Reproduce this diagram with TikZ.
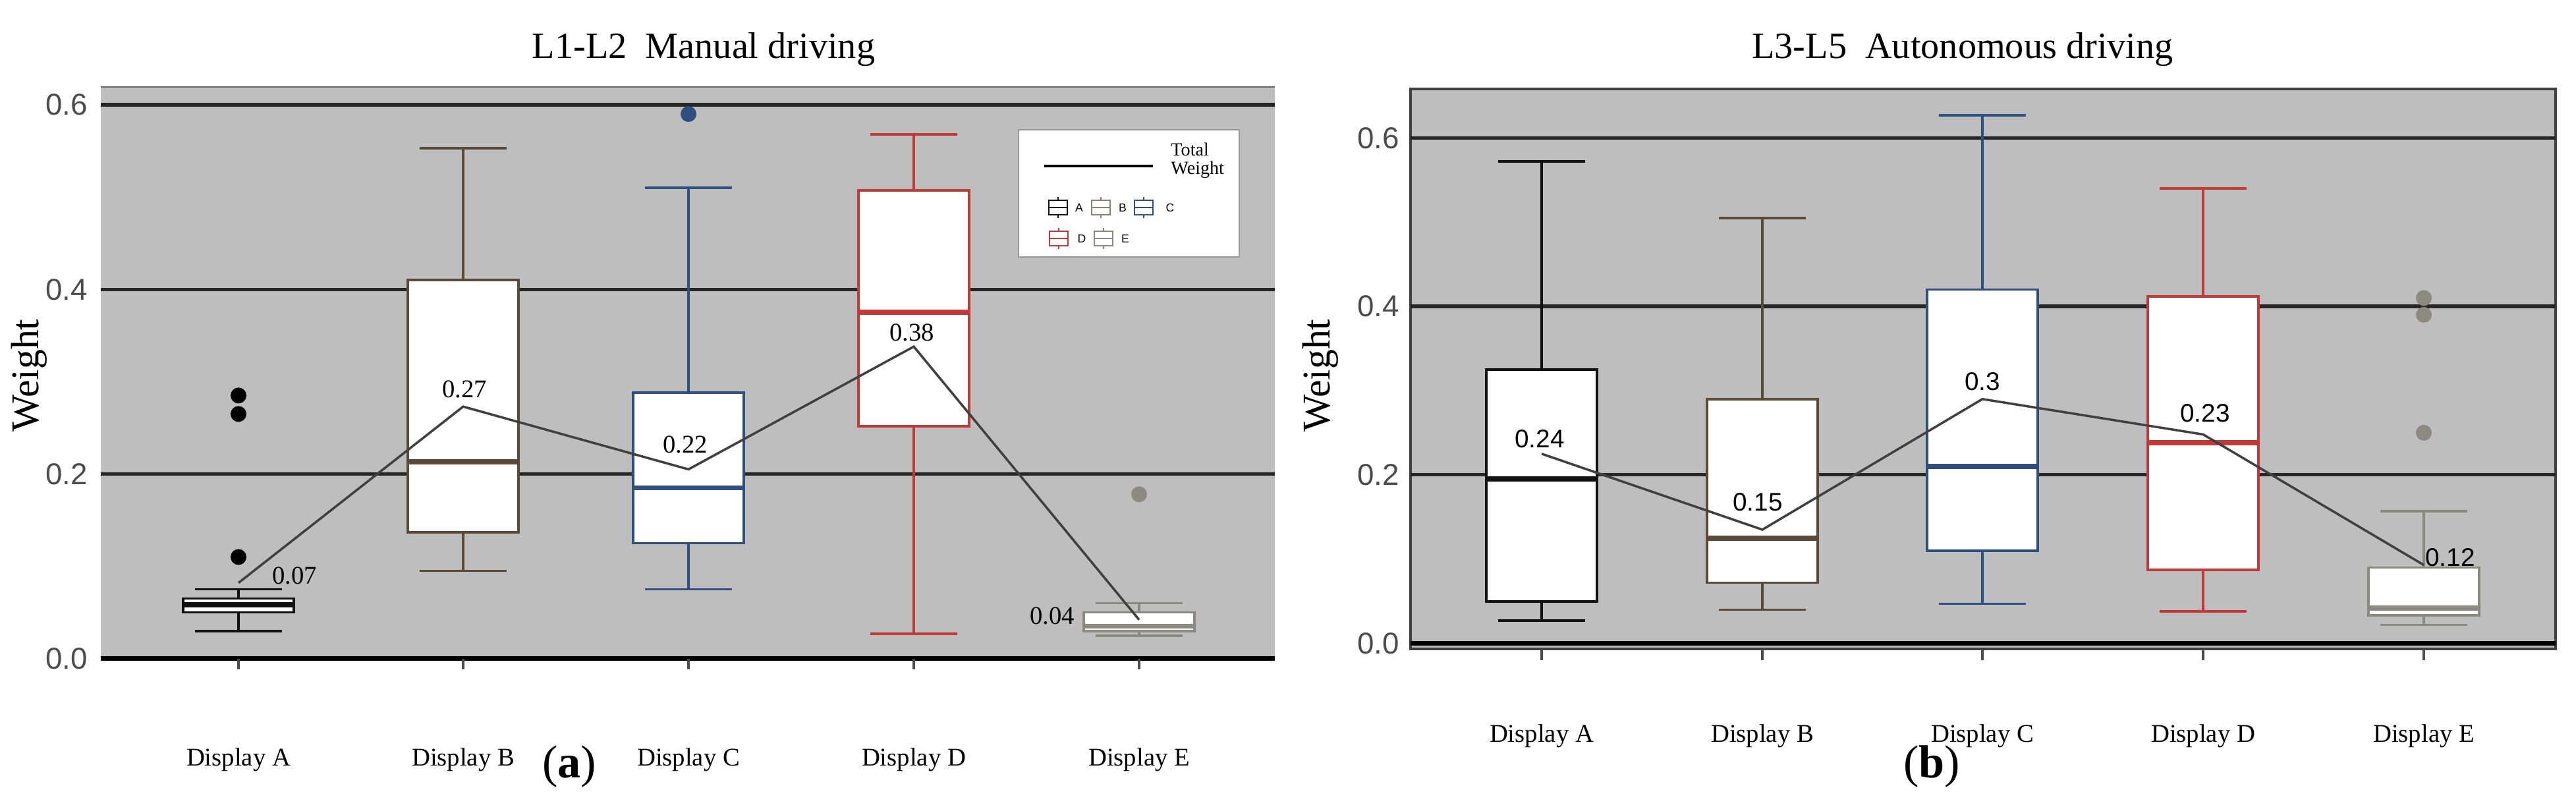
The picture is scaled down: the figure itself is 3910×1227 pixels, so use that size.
\documentclass[tikz,border=0pt]{standalone}
\usepackage{fontspec}
\setmainfont{Liberation Serif}
\setsansfont{Liberation Sans}
\definecolor{bgg}{HTML}{BEBEBE}
\definecolor{cA}{HTML}{111111}
\definecolor{cB}{HTML}{5A4A3A}
\definecolor{cC}{HTML}{2F4F80}
\definecolor{cD}{HTML}{C03A3A}
\definecolor{cE}{HTML}{8A8A80}
\newcommand\bplot[7]{% x lw lq med uq uw color
  \draw[#7,line width=1.1pt] (#1,#2) -- (#1,#3) (#1,#5) -- (#1,#6);
  \draw[#7,line width=1.1pt] (#1-66,#2) -- (#1+66,#2) (#1-66,#6) -- (#1+66,#6);
  \draw[#7,line width=1.1pt,fill=white] (#1-84,#3) rectangle (#1+84,#5);
  \draw[#7,line width=2.2pt] (#1-84,#4) -- (#1+84,#4);
}
\newcommand\outdot[3]{\fill[#3] (#1,#2) circle[radius=0.12cm];}
\newcommand\legicon[3]{% x y color
  \draw[#3,line width=0.6pt] (#1,#2-16) -- (#1,#2+16);
  \draw[#3,line width=0.6pt,fill=white] (#1-14,#2-11) rectangle (#1+14,#2+11);
  \draw[#3,line width=0.6pt] (#1-14,#2) -- (#1+14,#2);
}
\tikzset{
  grid/.style={line width=1.5pt,black!85},
  tot/.style={line width=1pt,black!75},
  val/.style={font=\fontsize{11}{12}\selectfont},
  vals/.style={font=\sffamily\fontsize{11}{12}\selectfont},
  cat/.style={font=\fontsize{11}{12}\selectfont},
  tick/.style={font=\sffamily\fontsize{13}{14}\selectfont,text=black!70,anchor=east},
}
\begin{document}
\begin{tikzpicture}[x=0.01cm,y=-0.01cm]
\useasboundingbox (0,0) rectangle (3910,1227);
% ---------------- panel a
\node[font=\fontsize{16}{18}\selectfont] (ta) at (1068,75) {L1-L2\ \ Manual driving};
\node[font=\fontsize{20}{22}\selectfont] (la) at (864,1164) {(\textbf{a})};
\node[font=\fontsize{17}{18}\selectfont,rotate=90] (wa) at (44,570) {Weight};
\fill[bgg] (153,132) rectangle (1935,999);
\draw[black!60,line width=0.6pt] (153,132) -- (1935,132);
\begin{scope}[x=0.01cm,y=14cm,shift={(0cm,-9.99cm)}]
  \foreach \v in {0.2,0.4,0.6} \draw[grid] (153,\v) -- (1935,\v);
  \draw[line width=2pt,black] (153,0) -- (1935,0);
  \foreach \v/\t in {0/0.0,0.2/0.2,0.4/0.4,0.6/0.6} \node[tick] at (145,\v) {\t};
  \foreach \x/\n in {362/A,703/B,1045/C,1387/D,1729/E} {
    \draw[black!70,line width=1pt] (\x,0) -- (\x,-0.012);
    \node[cat] at (\x,-0.11) {Display \n};
  }
  \bplot{362}{0.03}{0.05}{0.058}{0.065}{0.075}{cA}
  \bplot{703}{0.095}{0.137}{0.213}{0.41}{0.553}{cB}
  \bplot{1045}{0.075}{0.125}{0.185}{0.288}{0.51}{cC}
  \bplot{1387}{0.027}{0.252}{0.375}{0.507}{0.568}{cD}
  \bplot{1729}{0.025}{0.03}{0.035}{0.05}{0.06}{cE}
  \outdot{362}{0.285}{black}\outdot{362}{0.265}{black}\outdot{362}{0.11}{black}
  \outdot{1045}{0.59}{cC}
  \outdot{1729}{0.178}{cE}
  \draw[tot] (362,0.082) -- (703,0.273) -- (1045,0.205) -- (1387,0.338) -- (1729,0.042);
  \node[val] at (447,0.09) {0.07};
  \node[val] at (705,0.292) {0.27};
  \node[val] at (1040,0.232) {0.22};
  \node[val] at (1384,0.353) {0.38};
  \node[val] at (1597,0.046) {0.04};
\end{scope}
% legend
\draw[bgg!80!black,line width=0.8pt,fill=white] (1546,197) rectangle (1881,390);
\draw[line width=1.2pt] (1585,252) -- (1750,252);
\node[font=\fontsize{8}{8}\selectfont,align=left,anchor=west] (lt) at (1765,244) {Total\\Weight};
\legicon{1606}{315}{cA}\node[font=\sffamily\fontsize{5}{5}\selectfont] at (1638,315) {A};
\legicon{1671}{315}{cB!70}\node[font=\sffamily\fontsize{5}{5}\selectfont] at (1704,315) {B};
\legicon{1736}{315}{cC}\node[font=\sffamily\fontsize{5}{5}\selectfont] at (1776,315) {C};
\legicon{1607}{362}{cD}\node[font=\sffamily\fontsize{5}{5}\selectfont] at (1642,362) {D};
\legicon{1675}{362}{cE}\node[font=\sffamily\fontsize{5}{5}\selectfont] at (1708,362) {E};
% ---------------- panel b
\node[font=\fontsize{16}{18}\selectfont] (tb) at (2979,75) {L3-L5\ \ Autonomous driving};
\node[font=\fontsize{20}{22}\selectfont] (lb) at (2932,1164) {(\textbf{b})};
\node[font=\fontsize{17}{18}\selectfont,rotate=90] (wb) at (2004,570) {Weight};
\fill[bgg] (2141,135) rectangle (3879,985);
\draw[black!75,line width=1.2pt] (2141,985) -- (2141,135) -- (3879,135) -- (3879,985) -- cycle;
\begin{scope}[x=0.01cm,y=12.78cm,shift={(0cm,-9.76cm)}]
  \foreach \v in {0.2,0.4,0.6} \draw[grid] (2141,\v) -- (3879,\v);
  \draw[line width=2pt,black] (2141,0) -- (3879,0);
  \foreach \v/\t in {0/0.0,0.2/0.2,0.4/0.4,0.6/0.6} \node[tick] at (2136,\v) {\t};
  \foreach \x/\n in {2340/A,2675/B,3009/C,3344/D,3679/E} {
    \draw[black!70,line width=1pt] (\x,-0.007) -- (\x,-0.02);
    \node[cat] at (\x,-0.11) {Display \n};
  }
  \bplot{2340}{0.027}{0.05}{0.195}{0.325}{0.572}{cA}
  \bplot{2675}{0.04}{0.072}{0.125}{0.29}{0.505}{cB}
  \bplot{3009}{0.047}{0.11}{0.21}{0.42}{0.627}{cC}
  \bplot{3344}{0.038}{0.087}{0.238}{0.412}{0.54}{cD}
  \bplot{3679}{0.022}{0.033}{0.042}{0.09}{0.157}{cE}
  \outdot{3679}{0.41}{cE}\outdot{3679}{0.39}{cE}\outdot{3679}{0.25}{cE}
  \draw[tot] (2340,0.225) -- (2675,0.135) -- (3009,0.29) -- (3344,0.248) -- (3679,0.093);
  \node[vals] at (2337,0.243) {0.24};
  \node[vals] at (2668,0.168) {0.15};
  \node[vals] at (3009,0.311) {0.3};
  \node[vals] at (3347,0.273) {0.23};
  \node[vals] at (3719,0.102) {0.12};
\end{scope}
\end{tikzpicture}
\end{document}
